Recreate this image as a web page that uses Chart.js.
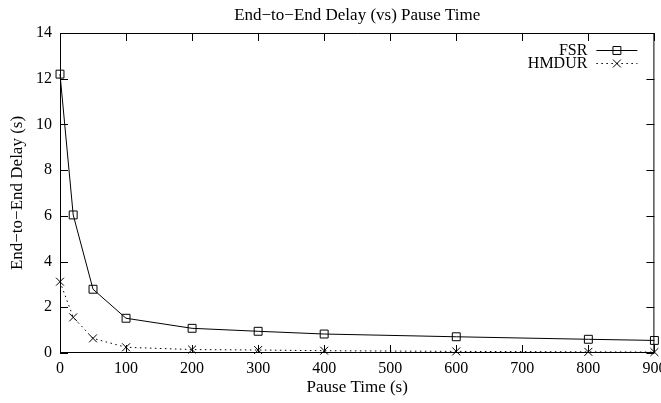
<!DOCTYPE html>
<html>
<head>
<meta charset="utf-8">
<script src="https://cdn.jsdelivr.net/npm/chart.js@4/dist/chart.umd.min.js"></script>
<style>
  html, body { margin: 0; padding: 0; background: #fff; overflow: hidden; }
  #wrap { width: 661px; height: 403px; position: relative; }
</style>
</head>
<body>
<div id="wrap"><canvas id="delayChart"></canvas></div>
<script>
// ==================== DATA ====================
const pauseTimes = [0, 20, 50, 100, 200, 300, 400, 600, 800, 900];
const fsrDelay = [12.2, 6.04, 2.79, 1.52, 1.08, 0.95, 0.83, 0.71, 0.6, 0.55];
const hmdurDelay = [3.12, 1.56, 0.64, 0.25, 0.15, 0.13, 0.1, 0.07, 0.05, 0.04];
const xTicks = [0, 100, 200, 300, 400, 500, 600, 700, 800, 900];
const yTicks = [0, 2, 4, 6, 8, 10, 12, 14];

const FONT = 'Liberation Serif, Times New Roman, serif';

Chart.defaults.font.family = FONT;
Chart.defaults.color = '#000';

// ticks pointing inwards on all four sides, plus the frame
const frameTicks = {
    id: 'frameTicks',
    afterDraw(chart) {
        const ctx = chart.ctx;
        const a = chart.chartArea;
        const x = chart.scales.x, y = chart.scales.y;
        const len = 8;
        ctx.save();
        ctx.strokeStyle = '#000';
        ctx.lineWidth = 1;
        ctx.beginPath();
        ctx.rect(a.left + 0.5, a.top + 0.5, a.right - a.left - 1, a.bottom - a.top - 1);
        xTicks.forEach(v => {
            const px = Math.round(x.getPixelForValue(v)) + 0.5;
            ctx.moveTo(px, a.bottom); ctx.lineTo(px, a.bottom - len);
            ctx.moveTo(px, a.top); ctx.lineTo(px, a.top + len);
        });
        yTicks.forEach(v => {
            const py = Math.round(y.getPixelForValue(v)) + 0.5;
            ctx.moveTo(a.left, py); ctx.lineTo(a.left + len, py);
            ctx.moveTo(a.right, py); ctx.lineTo(a.right - len, py);
        });
        ctx.stroke();
        ctx.restore();
    }
};

// gnuplot style key, top right inside the plot
const gnuKey = {
    id: 'gnuKey',
    afterDraw(chart) {
        const ctx = chart.ctx;
        const a = chart.chartArea;
        const rows = chart.data.datasets.map((ds, i) => ({ ds, y: a.top + 16.5 + i * 13 }));
        ctx.save();
        ctx.font = '16px ' + FONT;
        ctx.textAlign = 'right';
        ctx.textBaseline = 'middle';
        rows.forEach(r => {
            const textRight = a.right - 67;
            const x1 = a.right - 58, x2 = a.right - 17;
            const yy = Math.round(r.y) + 0.5;
            ctx.fillStyle = '#000';
            ctx.fillText(r.ds.label, textRight, r.y + 1);
            ctx.strokeStyle = '#000';
            ctx.lineWidth = 1;
            ctx.setLineDash(r.ds.borderDash || []);
            ctx.beginPath();
            ctx.moveTo(x1, yy);
            ctx.lineTo(x2, yy);
            ctx.stroke();
            ctx.setLineDash([]);
            ctx.fillStyle = 'rgba(0,0,0,0)';
            Chart.helpers.drawPoint(ctx, {
                pointStyle: r.ds.pointStyle,
                radius: r.ds.pointRadius,
                borderWidth: 1
            }, (x1 + x2) / 2, yy);
        });
        ctx.restore();
    }
};

new Chart(document.getElementById('delayChart'), {
    type: 'line',
    data: {
        datasets: [{
            label: 'FSR',
            data: pauseTimes.map((t, i) => ({ x: t, y: fsrDelay[i] })),
            borderColor: '#000',
            backgroundColor: 'transparent',
            borderWidth: 1,
            pointStyle: 'rect',
            pointRadius: 5.6,
            pointBorderWidth: 1,
            pointBorderColor: '#000',
            pointBackgroundColor: 'transparent',
            tension: 0,
            clip: false
        }, {
            label: 'HMDUR',
            data: pauseTimes.map((t, i) => ({ x: t, y: hmdurDelay[i] })),
            borderColor: '#000',
            backgroundColor: 'transparent',
            borderWidth: 1,
            borderDash: [1.5, 3.5],
            pointStyle: 'crossRot',
            pointRadius: 5.6,
            pointBorderWidth: 1,
            pointBorderColor: '#000',
            tension: 0,
            clip: false
        }]
    },
    options: {
        responsive: true,
        maintainAspectRatio: false,
        animation: false,
        events: [],
        layout: { padding: 0 },
        plugins: {
            legend: { display: false },
            tooltip: { enabled: false },
            title: {
                display: true,
                text: 'End\u2212to\u2212End Delay (vs) Pause Time',
                fullSize: false,
                color: '#000',
                font: { family: FONT, size: 17, weight: 'normal' },
                padding: { top: 5, bottom: 7.6 }
            }
        },
        scales: {
            x: {
                type: 'linear',
                min: 0,
                max: 900,
                afterBuildTicks: s => { s.ticks = xTicks.map(v => ({ value: v })); },
                afterFit: s => { s.height = 50; s.paddingLeft = 0; s.paddingRight = 6; },
                grid: { display: false, drawTicks: false },
                border: { display: false },
                ticks: { font: { size: 16 }, padding: 6, maxRotation: 0, autoSkip: false },
                title: {
                    display: true,
                    text: 'Pause Time (s)',
                    font: { size: 17 },
                    padding: { top: 0, bottom: 5 }
                }
            },
            y: {
                min: 0,
                max: 14,
                afterBuildTicks: s => { s.ticks = yTicks.map(v => ({ value: v })); },
                afterFit: s => { s.width = 60; },
                grid: { display: false, drawTicks: false },
                border: { display: false },
                ticks: { font: { size: 16 }, padding: 8 },
                title: {
                    display: true,
                    text: 'End\u2212to\u2212End Delay (s)',
                    font: { size: 17 },
                    padding: { top: 7, bottom: 0 }
                }
            }
        }
    },
    plugins: [frameTicks, gnuKey]
});
</script>
</body>
</html>
